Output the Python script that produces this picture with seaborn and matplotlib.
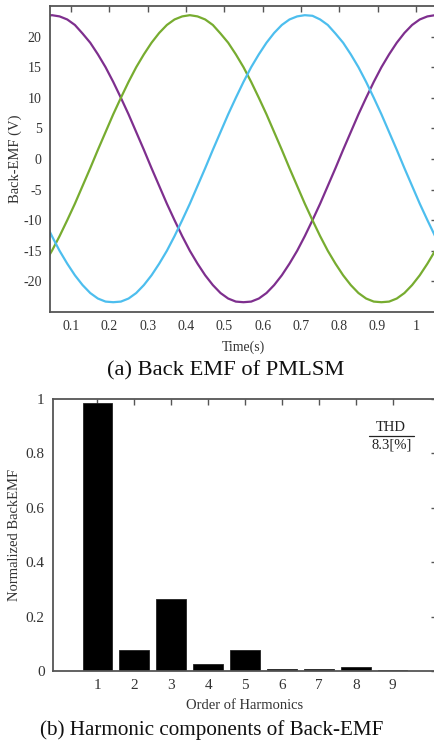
import matplotlib
matplotlib.use("Agg")
import matplotlib.pyplot as plt
import seaborn as sns
import pandas as pd

# ---- (a) three-phase back EMF of the PMLSM ----
time_s = [0.03, 0.05, 0.07, 0.09, 0.11, 0.13, 0.15, 0.17, 0.19, 0.21,
          0.23, 0.25, 0.27, 0.29, 0.31, 0.33, 0.35, 0.37, 0.39, 0.41,
          0.43, 0.45, 0.47, 0.49, 0.51, 0.53, 0.55, 0.57, 0.59, 0.61,
          0.63, 0.65, 0.67, 0.69, 0.71, 0.73, 0.75, 0.77, 0.79, 0.81,
          0.83, 0.85, 0.87, 0.89, 0.91, 0.93, 0.95, 0.97, 0.99, 1.01,
          1.03, 1.05, 1.07]

phase_purple = [23.3, 23.5, 23.3, 22.8, 21.9, 20.5, 19.0, 17.1, 15.0, 12.6,
                10.0, 7.3, 4.4, 1.5, -1.5, -4.4, -7.3, -10.0, -12.6, -15.0,
                -17.1, -19.0, -20.6, -21.9, -22.8, -23.3, -23.4, -23.3, -22.8, -21.9,
                -20.6, -19.0, -17.1, -15.0, -12.6, -10.0, -7.3, -4.4, -1.5, 1.5,
                4.4, 7.3, 10.0, 12.6, 15.0, 17.1, 19.0, 20.6, 21.9, 22.8,
                23.3, 23.5, 23.3]

phase_green = [-17.1, -15.0, -12.6, -10.0, -7.3, -4.4, -1.5, 1.5, 4.4, 7.3,
               10.0, 12.6, 15.0, 17.1, 19.0, 20.6, 21.9, 22.8, 23.3, 23.5,
               23.3, 22.8, 21.9, 20.5, 19.0, 17.1, 15.0, 12.6, 10.0, 7.3,
               4.4, 1.5, -1.5, -4.4, -7.3, -10.0, -12.6, -15.0, -17.1, -19.0,
               -20.6, -21.9, -22.8, -23.3, -23.4, -23.3, -22.8, -21.9, -20.6, -19.0,
               -17.1, -15.0, -12.6]

phase_blue = [-10.0, -12.6, -15.0, -17.1, -19.0, -20.6, -21.9, -22.8, -23.3, -23.4,
              -23.3, -22.8, -21.9, -20.6, -19.0, -17.1, -15.0, -12.6, -10.0, -7.3,
              -4.4, -1.5, 1.5, 4.4, 7.3, 10.0, 12.6, 15.0, 17.1, 19.0,
              20.6, 21.9, 22.8, 23.3, 23.5, 23.4, 22.8, 21.9, 20.5, 19.0,
              17.1, 15.0, 12.6, 10.0, 7.3, 4.4, 1.5, -1.5, -4.4, -7.3,
              -10.0, -12.6, -15.0]

emf_yticks = [-20, -15, -10, -5, 0, 5, 10, 15, 20]
time_xticks = [0.1, 0.2, 0.3, 0.4, 0.5, 0.6, 0.7, 0.8, 0.9, 1.0]
time_xticklabels = ["0.1", "0.2", "0.3", "0.4", "0.5", "0.6", "0.7", "0.8", "0.9", "1"]

# ---- (b) harmonic spectrum ----
harmonic_order = [1, 2, 3, 4, 5, 6, 7, 8, 9]
normalized_emf = [0.985, 0.078, 0.264, 0.025, 0.077, 0.006, 0.006, 0.016, 0.005]
spec_yticks = [0, 0.2, 0.4, 0.6, 0.8, 1.0]
spec_yticklabels = ["0", "0.2", "0.4", "0.6", "0.8", "1"]
thd_value = "8.3[%]"

sns.set_style("white")
plt.rcParams["font.family"] = ["Liberation Serif", "DejaVu Serif"]
plt.rcParams["axes.unicode_minus"] = False

SPINE = "#555555"
TXT = "#333333"

fig = plt.figure(figsize=(4.35, 7.43), dpi=100)
fig.patch.set_facecolor("white")

# axes extend slightly past the right edge of the canvas
ax1 = fig.add_axes([50 / 435, 1 - 312 / 743, 387 / 435, 306 / 743])
ax2 = fig.add_axes([53 / 435, 1 - 671 / 743, 384 / 435, 272 / 743])

wave = pd.DataFrame({"t": time_s * 3,
                     "emf": phase_purple + phase_green + phase_blue,
                     "phase": ["A"] * len(time_s) + ["B"] * len(time_s) + ["C"] * len(time_s)})
sns.lineplot(data=wave, x="t", y="emf", hue="phase",
             palette={"A": "#7E2F8E", "B": "#77AC30", "C": "#4DBEEE"},
             linewidth=1.6, legend=False, ax=ax1, sort=False, estimator=None)
ax1.set_xlim(0.045, 1.055)
ax1.set_ylim(-25, 25)
ax1.set_xticks(time_xticks)
ax1.set_xticklabels(time_xticklabels)
ax1.set_yticks(emf_yticks)
ax1.set_yticklabels([str(v) for v in emf_yticks])
ax1.set_xlabel("Time(s)", fontsize=10, color=TXT, labelpad=5)
ax1.set_ylabel("Back-EMF (V)", fontsize=10.5, color=TXT, labelpad=1)

spec = pd.DataFrame({"order": harmonic_order, "value": normalized_emf})
sns.barplot(data=spec, x="order", y="value", native_scale=True, width=0.8,
            color="black", edgecolor="#222222", linewidth=0.6, saturation=1,
            ax=ax2)
ax2.set_xlim(-0.2, 10.2)
ax2.set_ylim(0, 1.0)
ax2.set_xticks(harmonic_order)
ax2.set_xticklabels([str(v) for v in harmonic_order])
ax2.set_yticks(spec_yticks)
ax2.set_yticklabels(spec_yticklabels)
ax2.set_xlabel("Order of Harmonics", fontsize=10.5, color=TXT, labelpad=5)
ax2.set_ylabel("Normalized BackEMF", fontsize=10.5, color=TXT, labelpad=3)

for ax, lsize in ((ax1, 10), (ax2, 11)):
    for s in ax.spines.values():
        s.set_color(SPINE)
        s.set_linewidth(1.3)
        s.set_visible(True)
    ax.tick_params(direction="in", top=True, right=True, length=4, width=1,
                   color=SPINE, labelsize=lsize, labelcolor=TXT, pad=6)

# THD annotation, underlined title over value
thd_x = 8.96
ax2.text(thd_x, 0.872, "THD", ha="center", va="bottom", fontsize=10.5, color="#222222")
ax2.plot([thd_x - 0.61, thd_x + 0.61], [0.863, 0.863], color="#222222", lw=0.9)
ax2.text(thd_x, 0.856, thd_value, ha="center", va="top", fontsize=10.5, color="#222222")

fig.text(226 / 435, 1 - 371 / 743, "(a) Back EMF of PMLSM", ha="center", va="center",
         fontsize=16.2, color="#111111")
fig.text(212 / 435, 1 - 730 / 743, "(b) Harmonic components of Back-EMF", ha="center",
         va="center", fontsize=15.2, color="#111111")

fig.savefig("out.png", dpi=100, facecolor="white")
